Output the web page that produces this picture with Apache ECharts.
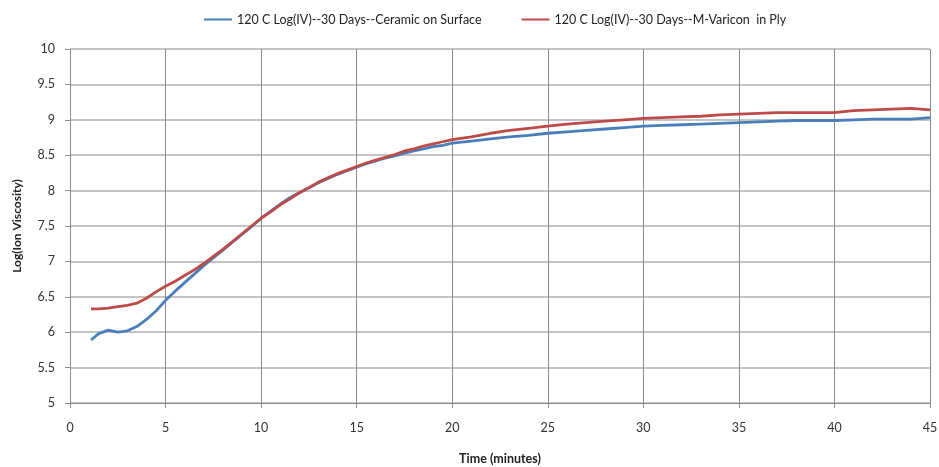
<!DOCTYPE html>
<html><head><meta charset="utf-8">
<script src="https://cdn.jsdelivr.net/npm/echarts@6/dist/echarts.min.js"></script>
<style>html,body{margin:0;padding:0;background:#fff}#c{width:939px;height:467px}</style>
</head><body><div id="c"></div>
<script>
const times = [1.1,1.5,2,2.5,3,3.5,4,4.5,5,5.5,6,6.5,7,7.5,8,8.5,9,9.5,10,10.5,11,11.5,12,12.5,13,13.5,14,14.5,15,15.5,16,16.5,17,17.5,18,18.5,19,19.5,20,
  21,22,23,24,25,26,27,28,29,30,31,32,33,34,35,36,37,38,39,40,41,42,43,44,45];
const ceramic = [5.89,5.98,6.03,6.00,6.02,6.08,6.18,6.30,6.45,6.58,6.70,6.82,6.94,7.05,7.16,7.27,7.38,7.49,7.61,7.71,7.81,7.90,7.97,8.04,8.11,8.17,8.23,8.28,8.33,8.38,8.42,8.46,8.49,8.53,8.56,8.59,8.62,8.64,8.67,
  8.70,8.73,8.76,8.78,8.81,8.83,8.85,8.87,8.89,8.91,8.92,8.93,8.94,8.95,8.96,8.97,8.98,8.99,8.99,8.99,9.00,9.01,9.01,9.01,9.03];
const varicon = [6.33,6.33,6.34,6.36,6.38,6.41,6.48,6.57,6.65,6.72,6.80,6.88,6.97,7.07,7.17,7.28,7.39,7.50,7.61,7.70,7.80,7.88,7.97,8.04,8.12,8.18,8.24,8.29,8.34,8.39,8.43,8.47,8.51,8.56,8.59,8.63,8.66,8.69,8.72,
  8.76,8.81,8.85,8.88,8.91,8.94,8.96,8.98,9.00,9.02,9.03,9.04,9.05,9.07,9.08,9.09,9.10,9.10,9.10,9.10,9.13,9.14,9.15,9.16,9.14];
const seriesNames = ['120 C Log(IV)--30 Days--Ceramic on Surface','120 C Log(IV)--30 Days--M-Varicon  in Ply'];

const font = 'Lato, "Open Sans", sans-serif';
const chart = echarts.init(document.getElementById('c'));
chart.setOption({
  animation:false,
  textStyle:{fontFamily:font},
  legend:{top:8,left:199,itemWidth:28,itemHeight:2,itemGap:40,
    icon:'rect',
    textStyle:{fontFamily:font,fontSize:12.5,color:'#222'},
    data:seriesNames},
  grid:{left:70,right:9,top:49,bottom:64,containLabel:false,outerBoundsMode:'none'},
  xAxis:{type:'value',min:0,max:45,interval:5,
    name:'Time (minutes)',nameLocation:'middle',nameGap:49,
    nameTextStyle:{fontFamily:font,fontSize:12.5,fontWeight:'bold',color:'#222'},
    axisLine:{lineStyle:{color:'#8c8c8c',width:1}},
    axisTick:{show:true,length:5,lineStyle:{color:'#8c8c8c'}},
    axisLabel:{fontFamily:font,fontSize:12.5,color:'#333',margin:18},
    splitLine:{show:true,lineStyle:{color:'#8c8c8c',width:1}}},
  yAxis:{type:'value',min:5,max:10,interval:0.5,
    name:'Log(Ion Viscosity)',nameLocation:'middle',nameGap:47,nameRotate:90,
    nameTextStyle:{fontFamily:font,fontSize:12,fontWeight:'bold',color:'#222'},
    axisLine:{show:true,lineStyle:{color:'#8c8c8c',width:1}},
    axisTick:{show:true,length:5,lineStyle:{color:'#8c8c8c'}},
    axisLabel:{fontFamily:font,fontSize:12.5,color:'#333',margin:15},
    splitLine:{show:true,lineStyle:{color:'#c4c4c4',width:2}}},
  series:[
    {name:seriesNames[0],type:'line',showSymbol:false,
     data:times.map((t,i)=>[t,ceramic[i]]),
     lineStyle:{color:'#4a7ebb',width:2.8},itemStyle:{color:'#4a7ebb'}},
    {name:seriesNames[1],type:'line',showSymbol:false,
     data:times.map((t,i)=>[t,varicon[i]]),
     lineStyle:{color:'#be4b48',width:2.8},itemStyle:{color:'#be4b48'}}
  ]
});
</script></body></html>
